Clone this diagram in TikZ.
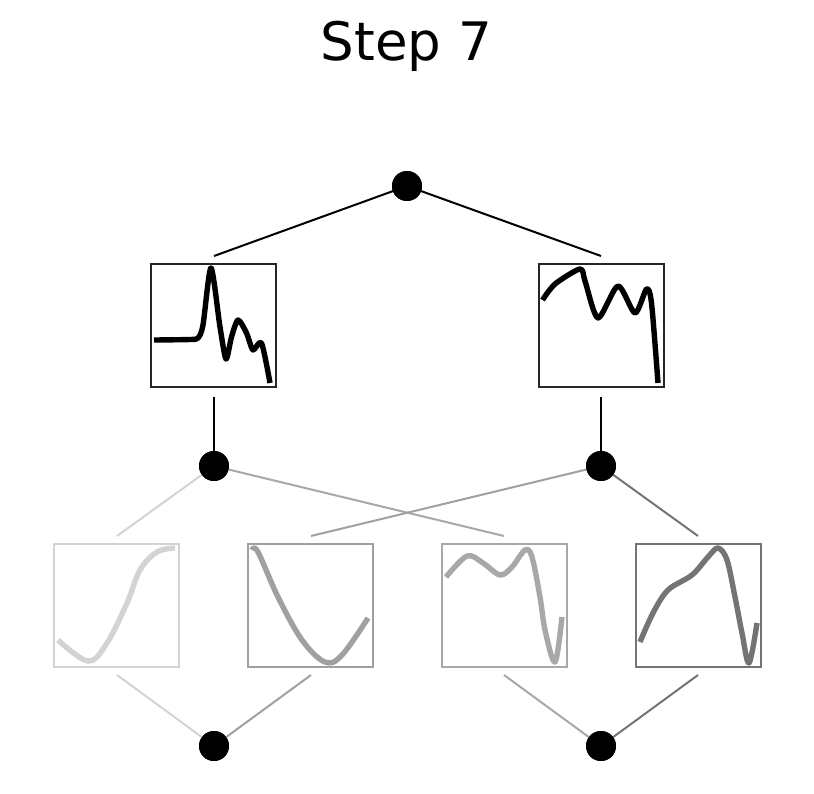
\documentclass[tikz,border=0pt]{standalone}
\usepackage{fontspec}
\newfontfamily\titlefont{DejaVu Sans}
\begin{document}
\begin{tikzpicture}[x=1pt,y=-1pt,
  neuron/.style={circle,fill=black,inner sep=0pt,minimum size=30pt},
  actbox/.style={draw=#1,line width=1.3pt,minimum width=125pt,minimum height=123pt,inner sep=0pt},
  wire/.style={draw=#1,line width=2pt},
  curve/.style={draw=#1,line width=5.4pt,line join=round}]
\useasboundingbox (0,0) rectangle (814,794);
\definecolor{gA}{HTML}{D3D3D3}
\definecolor{gB}{HTML}{A0A0A0}
\definecolor{gC}{HTML}{A8A8A8}
\definecolor{gD}{HTML}{747474}

% title
\node[anchor=base,font=\titlefont\fontsize{53}{60}\selectfont] (title) at (406.5,61) {Step 7};

% neurons
\node[neuron] (top) at (407,186) {};
\node[neuron] (m1) at (214,466) {};
\node[neuron] (m2) at (601,466) {};
\node[neuron] (b1) at (214,746) {};
\node[neuron] (b2) at (601,746) {};

% activation boxes, upper layer
\node[actbox=black!85] (u1) at (213.5,325.5) {};
\node[actbox=black!85] (u2) at (601.5,325.5) {};
% activation boxes, lower layer
\node[actbox=gA] (l1) at (116.5,605.5) {};
\node[actbox=gB] (l2) at (310.5,605.5) {};
\node[actbox=gC] (l3) at (504.5,605.5) {};
\node[actbox=gD] (l4) at (698.5,605.5) {};

% wire ends above / below boxes
\coordinate (u1in) at (214,256);
\coordinate (u2in) at (601,256);
\coordinate (u1out) at (214,397);
\coordinate (u2out) at (601,397);
\coordinate (l1in) at (117,536);
\coordinate (l2in) at (311,536);
\coordinate (l3in) at (504,536);
\coordinate (l4in) at (698,536);
\coordinate (l1out) at (117,675);
\coordinate (l2out) at (311,675);
\coordinate (l3out) at (504,675);
\coordinate (l4out) at (698,675);

% wires, upper layer
\draw[wire=black] (top.center) -- (u1in);
\draw[wire=black] (top.center) -- (u2in);
\draw[wire=black] (u1out) -- (m1.center);
\draw[wire=black] (u2out) -- (m2.center);
% wires, lower layer
\draw[wire=gA] (m1.center) -- (l1in);
\draw[wire=gC] (m1.center) -- (l3in);
\draw[wire=gB] (m2.center) -- (l2in);
\draw[wire=gD] (m2.center) -- (l4in);
\draw[wire=gA] (l1out) -- (b1.center);
\draw[wire=gB] (l2out) -- (b1.center);
\draw[wire=gC] (l3out) -- (b2.center);
\draw[wire=gD] (l4out) -- (b2.center);

% redraw neurons on top of wires
\foreach \n/\p in {top/{(407,186)},m1/{(214,466)},m2/{(601,466)},b1/{(214,746)},b2/{(601,746)}}
  \fill[black] \p circle (15pt);

% activation curves
\draw[curve=black] plot[smooth,tension=0.45] coordinates {(154,340) (190,339.5) (198,338) (203,325) (211,268) (220,327) (226,359) (231.5,337) (238,320) (246.5,333) (253,350) (261.5,343) (270,383)};
\draw[curve=black] plot[smooth,tension=0.45] coordinates {(542.5,300) (555,284) (580,269) (585,281) (598,318) (618,286) (635,313) (646.5,289) (651.5,303) (658,383)};
\draw[curve=gA] plot[smooth,tension=0.6] coordinates {(58,640) (88,661) (107,643) (127,603) (140,570) (157,552) (175,548)};
\draw[curve=gB] plot[smooth,tension=0.6] coordinates {(252,550) (258,552) (278,597) (302,640) (325,662) (342,655) (368,618)};
\draw[curve=gC] plot[smooth,tension=0.55] coordinates {(446,577) (467,556) (483,563) (500,575) (512,567) (525,550) (532,557) (540,597) (545,630) (555,662) (562,617)};
\draw[curve=gD] plot[smooth,tension=0.55] coordinates {(640,642) (653,613) (668,590) (692,575) (708,557) (718,548) (727,560) (735,597) (742,633) (749,663) (757,623)};
\end{tikzpicture}
\end{document}
